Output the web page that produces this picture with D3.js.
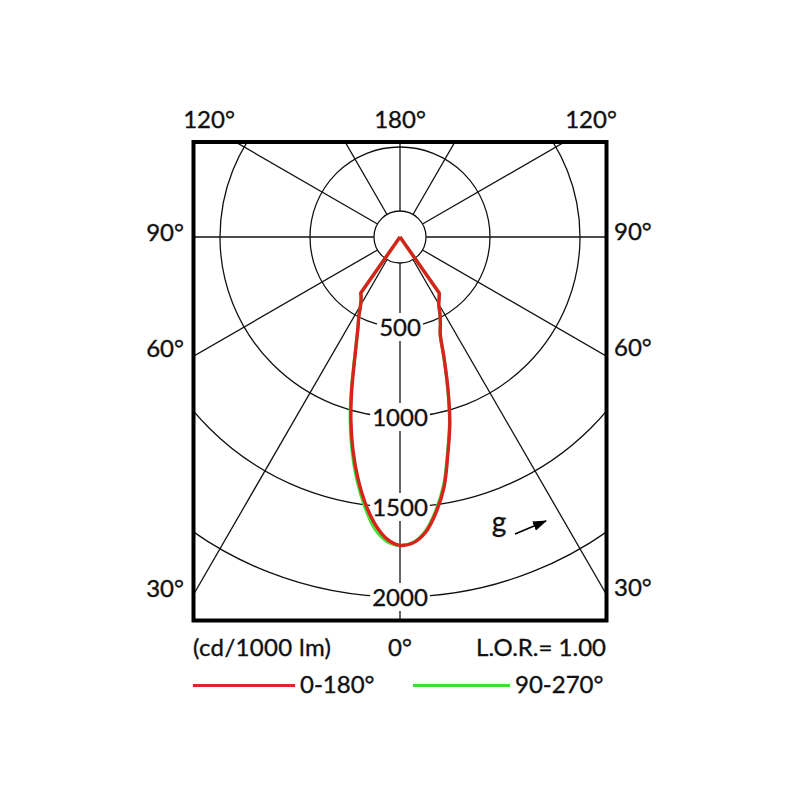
<!DOCTYPE html>
<html>
<head>
<meta charset="utf-8">
<script src="https://cdn.jsdelivr.net/npm/d3@7"></script>
<style>
  html, body { margin: 0; padding: 0; background: #fff; }
  svg { display: block; }
  text { font-family: Lato, "Open Sans", sans-serif; fill: #111; stroke: #111; stroke-width: 0.35px; }
</style>
</head>
<body>
<svg id="chart" width="800" height="800"></svg>
<script>
// ---------- data ----------
const ringValues = [500, 1000, 1500, 2000];
const spokeAngles = [0, 30, 60, 90, 120, 150, 180];
const topAngleLabels = ["120°", "180°", "120°"];
const sideAngleLabels = ["90°", "60°", "30°"];
const bottomAngleLabel = "0°";
const unitLabel = "(cd/1000 lm)";
const lorLabel = "L.O.R.= 1.00";
const seriesNames = ["0-180°", "90-270°"];

// gamma angles (deg from nadir)
const gammaAngles = [0, 2.5, 5, 7.5, 10, 12.5, 15, 17.5, 20, 22.5, 25, 27.5, 30, 32.5, 35, 40, 60, 90, 120, 150, 180];
// C0 (right half) and C180 (left half) of the 0-180 plane
const c0Values   = [1713, 1700, 1645, 1541, 1410, 1230, 1069, 886, 716, 584, 531, 480, 430, 405, 380, 0, 0, 0, 0, 0, 0];
const c180Values = [1713, 1679, 1600, 1488, 1355, 1209, 1054, 892, 742, 632, 552, 495, 438, 402, 380, 0, 0, 0, 0, 0, 0];
// C90 (right half) and C270 (left half) of the 90-270 plane
const c90Values  = [1713, 1698, 1638, 1530, 1398, 1222, 1064, 882, 714, 584, 531, 480, 430, 405, 380, 0, 0, 0, 0, 0, 0];
const c270Values = [1713, 1692, 1625, 1508, 1375, 1226, 1068, 902, 748, 634, 552, 495, 438, 402, 380, 0, 0, 0, 0, 0, 0];

// ---------- layout ----------
const cx = 400, cy = 237;
const frame = { x0: 193.5, x1: 606.5, y0: 142, y1: 620.5 };
const hubR = 26;
const redColor = "#d8231c";
const greenColor = "#3fe23a";

const svg = d3.select("#chart");
const r = d3.scaleLinear().domain([0, 2000]).range([0, 360]);
const toRad = d => d * Math.PI / 180;

svg.append("defs").append("clipPath").attr("id", "frameClip")
  .append("rect")
  .attr("x", frame.x0).attr("y", frame.y0)
  .attr("width", frame.x1 - frame.x0).attr("height", frame.y1 - frame.y0);

const g = svg.append("g").attr("clip-path", "url(#frameClip)");
const plot = g.append("g").attr("transform", `translate(${cx},${cy})`);

// spokes (both sides)
const spokes = [];
spokeAngles.forEach(a => { spokes.push(a); if (a !== 0 && a !== 180) spokes.push(-a); });
plot.selectAll("line.spoke").data(spokes).enter().append("line")
  .attr("class", "spoke")
  .attr("x1", d => hubR * Math.sin(toRad(d)))
  .attr("y1", d => hubR * Math.cos(toRad(d)))
  .attr("x2", d => 1000 * Math.sin(toRad(d)))
  .attr("y2", d => 1000 * Math.cos(toRad(d)))
  .attr("stroke", "#111").attr("stroke-width", 1.3);

// rings
plot.append("circle").attr("r", hubR).attr("fill", "none").attr("stroke", "#111").attr("stroke-width", 1.3);
plot.selectAll("circle.ring").data(ringValues).enter().append("circle")
  .attr("class", "ring")
  .attr("r", d => r(d))
  .attr("fill", "none").attr("stroke", "#111").attr("stroke-width", 1.3);

// ring value labels with white backgrounds
const vl = plot.selectAll("g.vlabel").data(ringValues).enter().append("g")
  .attr("class", "vlabel")
  .attr("transform", d => `translate(0,${r(d)})`);
vl.append("rect").attr("fill", "#fff");
vl.append("text")
  .attr("text-anchor", "middle")
  .attr("y", 8.5)
  .attr("font-size", 24)
  .text(d => d);
vl.each(function () {
  const t = d3.select(this).select("text").node().getBBox();
  d3.select(this).select("rect")
    .attr("x", t.x - 2).attr("width", t.width + 4)
    .attr("y", -14).attr("height", 28);
});

// curves: straight flanks to the centre, smooth lobe between
const smooth = d3.lineRadial().curve(d3.curveCatmullRom.alpha(0.5));
function planePath(rightVals, leftVals) {
  const pts = [];
  for (let i = gammaAngles.length - 1; i >= 0; i--) {
    if (leftVals[i] > 0) pts.push([Math.PI + toRad(gammaAngles[i]), r(leftVals[i])]);
  }
  for (let i = 1; i < gammaAngles.length; i++) {
    if (rightVals[i] > 0) pts.push([Math.PI - toRad(gammaAngles[i]), r(rightVals[i])]);
  }
  const mid = smooth(pts);
  return "M0,0L" + mid.slice(1) + "L0,0";
}
plot.append("path")
  .attr("d", planePath(c90Values, c270Values))
  .attr("fill", "none").attr("stroke", greenColor).attr("stroke-width", 3.2)
  .attr("stroke-linejoin", "round");
plot.append("path")
  .attr("d", planePath(c0Values, c180Values))
  .attr("fill", "none").attr("stroke", redColor).attr("stroke-width", 3.4)
  .attr("stroke-linejoin", "round");

// frame
svg.append("rect")
  .attr("x", frame.x0).attr("y", frame.y0)
  .attr("width", frame.x1 - frame.x0).attr("height", frame.y1 - frame.y0)
  .attr("fill", "none").attr("stroke", "#000").attr("stroke-width", 4);

// angle labels
const fs = 24;
const topX = [209, 400, 591];
svg.selectAll("text.top").data(topAngleLabels).enter().append("text")
  .attr("class", "top")
  .attr("x", (d, i) => topX[i]).attr("y", 128)
  .attr("text-anchor", "middle").attr("font-size", fs)
  .text(d => d);
const sideY = [241, 357, 597];
svg.selectAll("text.left").data(sideAngleLabels).enter().append("text")
  .attr("class", "left")
  .attr("x", 184).attr("y", (d, i) => sideY[i])
  .attr("text-anchor", "end").attr("font-size", fs)
  .text(d => d);
svg.selectAll("text.right").data(sideAngleLabels).enter().append("text")
  .attr("class", "right")
  .attr("x", 614).attr("y", (d, i) => sideY[i] - 1)
  .attr("text-anchor", "start").attr("font-size", fs)
  .text(d => d);
svg.append("text").attr("x", 400).attr("y", 656).attr("text-anchor", "middle")
  .attr("font-size", fs).text(bottomAngleLabel);
svg.append("text").attr("x", 193).attr("y", 656).attr("text-anchor", "start")
  .attr("font-size", fs).attr("textLength", 138).text(unitLabel);
svg.append("text").attr("x", 606).attr("y", 656).attr("text-anchor", "end")
  .attr("font-size", fs).text(lorLabel);

// legend
const legend = [
  { name: seriesNames[0], color: "#e0262a", x0: 193, x1: 295 },
  { name: seriesNames[1], color: "#39df35", x0: 413, x1: 510 }
];
const lg = svg.selectAll("g.legend").data(legend).enter().append("g").attr("class", "legend");
lg.append("line")
  .attr("x1", d => d.x0).attr("x2", d => d.x1)
  .attr("y1", 685.5).attr("y2", 685.5)
  .attr("stroke", d => d.color).attr("stroke-width", 3);
lg.append("text")
  .attr("x", d => d.x1 + 5).attr("y", 693)
  .attr("font-size", fs)
  .text(d => d.name);

// "g" direction annotation
svg.append("defs").append("marker")
  .attr("id", "arrowHead").attr("viewBox", "0 0 14 10")
  .attr("refX", 13).attr("refY", 5)
  .attr("markerWidth", 14).attr("markerHeight", 10)
  .attr("markerUnits", "userSpaceOnUse")
  .attr("orient", "auto")
  .append("path").attr("d", "M0,0 L14,5 L0,10 Z").attr("fill", "#000");
svg.append("text").attr("x", 499).attr("y", 532).attr("text-anchor", "middle")
  .attr("font-size", 28).text("g");
svg.append("line")
  .attr("x1", 515).attr("y1", 534).attr("x2", 546).attr("y2", 521)
  .attr("stroke", "#000").attr("stroke-width", 1.6)
  .attr("marker-end", "url(#arrowHead)");
</script>
</body>
</html>
